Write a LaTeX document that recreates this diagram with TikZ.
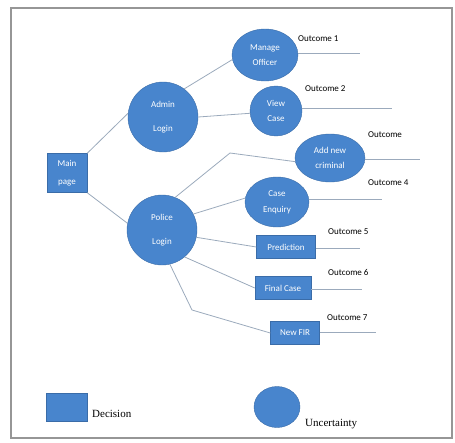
\documentclass[tikz,border=0pt]{standalone}
\usepackage{fontspec}
\setmainfont{Liberation Serif}
\newfontfamily\carlito{Carlito}
\usetikzlibrary{shapes.geometric}

\definecolor{nodeblue}{RGB}{72,133,205}
\definecolor{nodeedge}{RGB}{58,108,168}
\definecolor{linkgray}{RGB}{155,170,188}
\definecolor{framegray}{RGB}{150,150,150}

\tikzset{
  decision/.style={rectangle,draw=nodeedge,fill=nodeblue,text=white,
    font=\carlito\fontsize{9}{10}\selectfont,align=center,inner sep=0pt},
  uncertain/.style={ellipse,draw=nodeedge,fill=nodeblue,text=white,
    font=\carlito\fontsize{9}{10}\selectfont,align=center,inner sep=0pt},
  link/.style={draw=linkgray,line width=0.8pt},
  outcome/.style={font=\carlito\fontsize{9}{10}\selectfont,anchor=west,inner sep=0pt},
  legendtext/.style={font=\fontsize{11}{12}\selectfont,anchor=base west,inner sep=0pt}
}

\begin{document}
\begin{tikzpicture}[x=1pt,y=-1pt]
  \useasboundingbox (0,0) rectangle (455,442);
  \draw[framegray,line width=2pt] (11,8) rectangle (452,438);

  % Start and logins
  \node[decision,minimum width=40pt,minimum height=39pt] (mainpage) at (67,173) {Main\\[8pt]page};
  \node[uncertain,minimum width=70pt,minimum height=70pt] (admin) at (163,117) {Admin\\[14pt]Login};
  \node[uncertain,minimum width=70pt,minimum height=70pt] (police) at (162,230) {Police\\[14pt]Login};

  % Admin branch
  \node[uncertain,minimum width=66pt,minimum height=52pt] (manage) at (265,55) {Manage\\[5pt]Officer};
  \node[uncertain,minimum width=52pt,minimum height=50pt] (viewcase) at (276,111) {View\\[5pt]Case};

  % Police branch
  \node[uncertain,minimum width=70pt,minimum height=48pt] (addnew) at (330,158) {Add new\\[5pt]criminal};
  \node[uncertain,minimum width=64pt,minimum height=50pt] (enquiry) at (277,202) {Case\\[6pt]Enquiry};
  \node[decision,minimum width=59pt,minimum height=23pt] (predict) at (286,247) {Prediction};
  \node[decision,minimum width=56pt,minimum height=23pt] (finalcase) at (283,288) {Final Case};
  \node[decision,minimum width=49pt,minimum height=23pt] (newfir) at (295,333) {New FIR};

  % Connectors
  \draw[link] (mainpage.north east) -- (admin.174);
  \draw[link] (mainpage.south east) -- (police.169);
  \draw[link] (admin.53) -- (manage.188);
  \draw[link] (admin.east) -- (viewcase.185);
  \coordinate (bendadd) at (230,153);
  \draw[link] (police.68) -- (bendadd) -- (addnew.186);
  \draw[link] (police.27) -- (enquiry.173);
  \draw[link] (police.348) -- (predict.west);
  \draw[link] (police.310) -- (finalcase.west);
  \coordinate (bendfir) at (192,310);
  \draw[link] (police.283) -- (bendfir) -- (newfir.west);

  % Outcomes
  \node[outcome] (out1) at (298,39) {Outcome 1};
  \node[outcome] (out2) at (305,89) {Outcome 2};
  \node[outcome] (out3) at (368,135) {Outcome};
  \node[outcome] (out4) at (368,183) {Outcome 4};
  \node[outcome] (out5) at (328,232) {Outcome 5};
  \node[outcome] (out6) at (328,272) {Outcome 6};
  \node[outcome] (out7) at (327,318) {Outcome 7};
  \coordinate (end1) at (360,53);
  \coordinate (end2) at (392,108);
  \coordinate (end3) at (420,159);
  \coordinate (end4) at (382,199);
  \coordinate (end5) at (360,248);
  \coordinate (end6) at (362,289);
  \coordinate (end7) at (376,332);
  \draw[link] (manage.east |- end1) -- (end1);
  \draw[link] (viewcase.east |- end2) -- (end2);
  \draw[link] (addnew.east |- end3) -- (end3);
  \draw[link] (enquiry.east |- end4) -- (end4);
  \draw[link] (predict.east |- end5) -- (end5);
  \draw[link] (finalcase.east |- end6) -- (end6);
  \draw[link] (newfir.east |- end7) -- (end7);

  % Legend
  \node[decision,minimum width=41pt,minimum height=28pt] (legdec) at (66.5,407) {};
  \node[legendtext] (legdectext) at (92,417) {Decision};
  \node[uncertain,minimum width=46pt,minimum height=41pt] (legunc) at (277,407) {};
  \node[legendtext] (leguntext) at (305,426) {Uncertainty};
\end{tikzpicture}
\end{document}
